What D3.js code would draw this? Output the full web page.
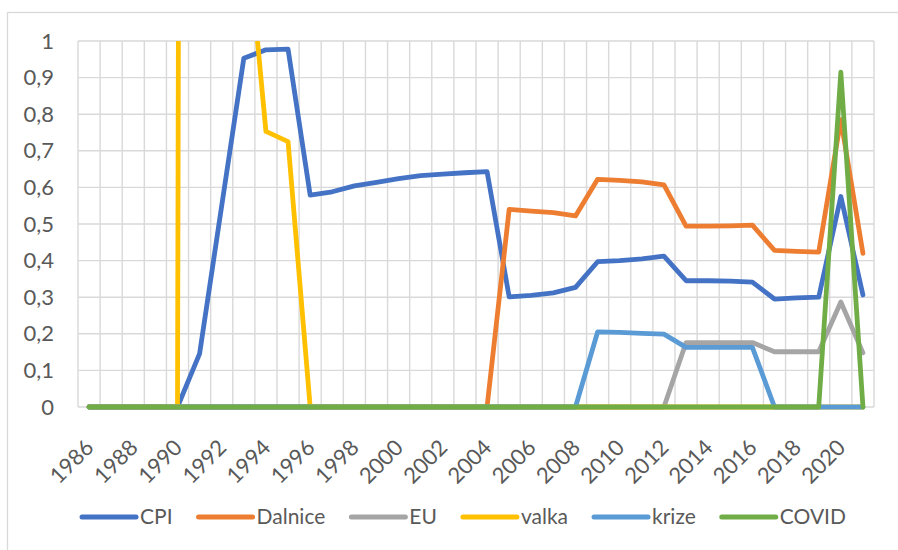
<!DOCTYPE html>
<html>
<head>
<meta charset="utf-8">
<script src="https://cdn.jsdelivr.net/npm/d3@7"></script>
<style>
  html, body { margin: 0; padding: 0; background: #fff; }
  svg { display: block; }
  text { font-family: Lato, "Open Sans", sans-serif; fill: #595959; }
</style>
</head>
<body>
<svg id="chart" width="898" height="550"></svg>
<script>
const years = ["1986","1987","1988","1989","1990","1991","1992","1993","1994","1995",
  "1996","1997","1998","1999","2000","2001","2002","2003","2004","2005",
  "2006","2007","2008","2009","2010","2011","2012","2013","2014","2015",
  "2016","2017","2018","2019","2020","2021"];
const xTickLabels = ["1986","1988","1990","1992","1994","1996","1998","2000","2002",
  "2004","2006","2008","2010","2012","2014","2016","2018","2020"];
const yTicks = [0,0.1,0.2,0.3,0.4,0.5,0.6,0.7,0.8,0.9,1];

const seriesNames = ["CPI","Dalnice","EU","valka","krize","COVID"];
const CPI = [0,0,0,0,0,0.146,0.55,0.953,0.976,0.978,
  0.579,0.588,0.604,0.614,0.624,0.632,0.636,0.640,0.643,0.301,
  0.305,0.312,0.327,0.397,0.400,0.405,0.412,0.345,0.345,0.344,
  0.341,0.295,0.298,0.300,0.575,0.306];
const Dalnice = [0,0,0,0,0,0,0,0,0,0,
  0,0,0,0,0,0,0,0,0,0.540,
  0.535,0.531,0.522,0.622,0.619,0.615,0.607,0.494,0.494,0.495,
  0.497,0.428,0.425,0.423,0.785,0.420];
const EU = [0,0,0,0,0,0,0,0,0,0,
  0,0,0,0,0,0,0,0,0,0,
  0,0,0,0,0,0,0,0.176,0.176,0.176,
  0.176,0.151,0.151,0.151,0.287,0.148];
const valka = [0,0,0,0,0,25,25,1.4,0.753,0.725,
  0,0,0,0,0,0,0,0,0,0,
  0,0,0,0,0,0,0,0,0,0,
  0,0,0,0,0,0];
const krize = [0,0,0,0,0,0,0,0,0,0,
  0,0,0,0,0,0,0,0,0,0,
  0,0,0,0.205,0.204,0.201,0.199,0.163,0.163,0.163,
  0.163,0,0,0,0,0];
const COVID = [0,0,0,0,0,0,0,0,0,0,
  0,0,0,0,0,0,0,0,0,0,
  0,0,0,0,0,0,0,0,0,0,
  0,0,0,0,0.915,0];

const seriesValues = [CPI, Dalnice, EU, valka, krize, COVID];
const colors = ["#4472C4","#ED7D31","#A5A5A5","#FFC000","#5B9BD5","#70AD47"];

(function () {
const svg = d3.select("#chart");
const pLeft = 78, pRight = 874, pTop = 41, pBottom = 407;
const fs = 22;

// outer chart border
svg.append("rect").attr("x", 7.5).attr("y", 12.5).attr("width", 1000).attr("height", 1000)
  .attr("fill", "#fff").attr("stroke", "#d9d9d9").attr("stroke-width", 1.3);

const x = d3.scaleBand().domain(years).range([pLeft, pRight]).padding(0);
const y = d3.scaleLinear().domain([0, 1]).range([pBottom, pTop]);
const cx = d => x(d) + x.bandwidth() / 2;

// horizontal gridlines
svg.append("g").selectAll("line").data(yTicks).join("line")
  .attr("x1", pLeft).attr("x2", pRight)
  .attr("y1", d => y(d)).attr("y2", d => y(d))
  .attr("stroke", "#d9d9d9").attr("stroke-width", 1.4);
// vertical gridlines at category boundaries
const bounds = years.map(d => x(d)).concat([pRight]);
svg.append("g").selectAll("line").data(bounds).join("line")
  .attr("x1", d => d).attr("x2", d => d)
  .attr("y1", pTop).attr("y2", pBottom)
  .attr("stroke", "#d9d9d9").attr("stroke-width", 1.4);

// y axis labels
const yAxis = svg.append("g").attr("transform", `translate(${pLeft},0)`)
  .call(d3.axisLeft(y).tickValues(yTicks).tickSize(0).tickPadding(24)
    .tickFormat(d => String(d3.format(".1~f")(d)).replace(".", ",")));
yAxis.select(".domain").remove();
yAxis.selectAll("text").attr("font-size", fs).style("font-family", "Lato, sans-serif").attr("fill", "#595959");

// x axis labels
const xAxis = svg.append("g").attr("transform", `translate(0,${pBottom})`)
  .call(d3.axisBottom(x).tickValues(xTickLabels).tickSize(0).tickPadding(0));
xAxis.select(".domain").remove();
xAxis.selectAll("text")
  .attr("font-size", fs).style("font-family", "Lato, sans-serif").attr("fill", "#595959")
  .attr("text-anchor", "end")
  .attr("x", 0).attr("y", 0).attr("dy", 0)
  .attr("transform", "translate(6,42) rotate(-45)");

// clip
svg.append("clipPath").attr("id", "plotclip").append("rect")
  .attr("x", pLeft - 10).attr("y", pTop).attr("width", pRight - pLeft + 20).attr("height", pBottom - pTop + 10);

const line = d3.line().x((d, i) => cx(years[i])).y(d => y(d));
const lg = svg.append("g").attr("clip-path", "url(#plotclip)");
seriesValues.forEach((vals, k) => {
  lg.append("path").datum(vals)
    .attr("d", line)
    .attr("fill", "none")
    .attr("stroke", colors[k])
    .attr("stroke-width", 4.8)
    .attr("stroke-linejoin", "round")
    .attr("stroke-linecap", "round");
});

// legend
const legend = svg.append("g");
let lx = 0;
seriesNames.forEach((name, k) => {
  const g = legend.append("g");
  g.append("line").attr("x1", lx).attr("x2", lx + 54).attr("y1", 0).attr("y2", 0)
    .attr("stroke", colors[k]).attr("stroke-width", 5).attr("stroke-linecap", "round");
  const t = g.append("text").attr("x", lx + 58).attr("y", 0).attr("dy", "0.35em")
    .attr("font-size", 21).text(name);
  lx += 58 + t.node().getComputedTextLength() + 26;
});
const totalW = lx - 26;
legend.attr("transform", `translate(${464 - totalW / 2},517)`);
})();
</script>
</body>
</html>
